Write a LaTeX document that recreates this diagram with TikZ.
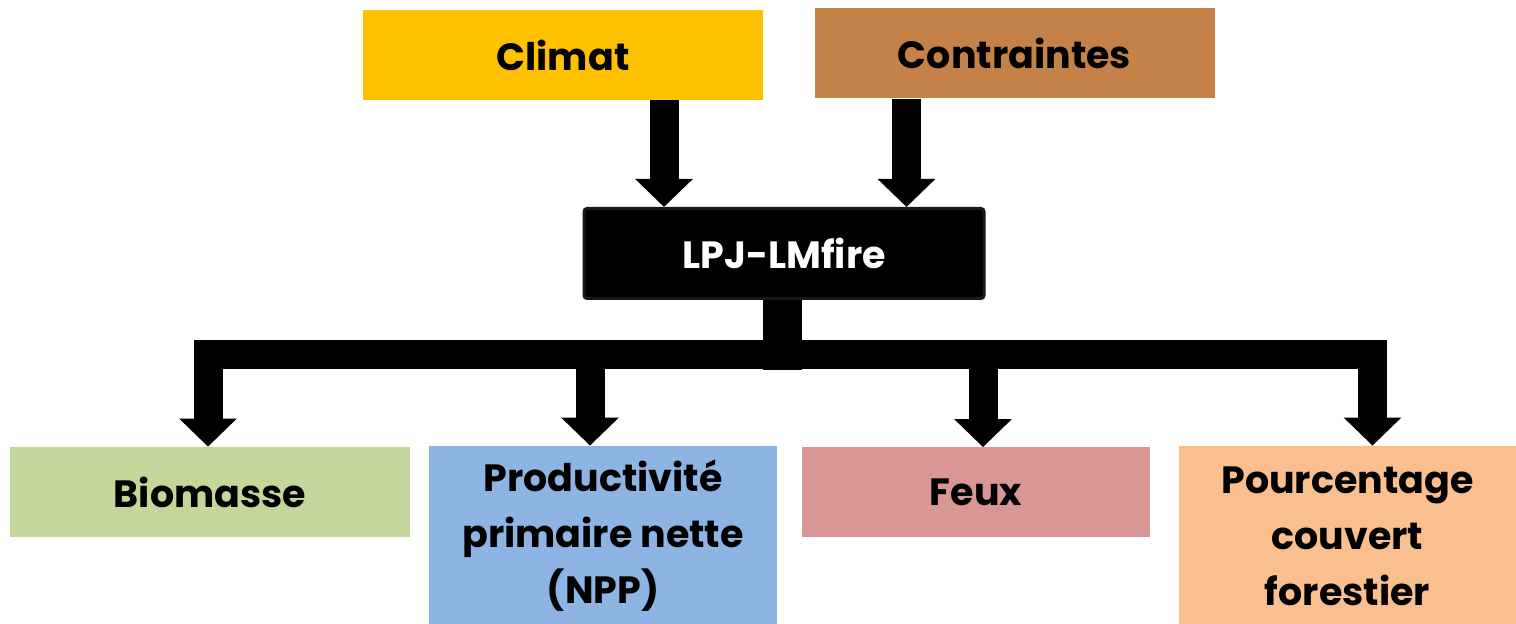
\documentclass[tikz,border=0pt]{standalone}
\usepackage{fontspec}
\setmainfont{Poppins}
\usepackage{xcolor}
\definecolor{climatcol}{RGB}{255,192,0}
\definecolor{contrcol}{RGB}{196,130,72}
\definecolor{biocol}{RGB}{196,215,155}
\definecolor{nppcol}{RGB}{141,180,226}
\definecolor{feuxcol}{RGB}{218,150,148}
\definecolor{forcol}{RGB}{250,191,143}
\usetikzlibrary{arrows.meta,positioning}

\tikzset{
  boite/.style={minimum width=200pt, minimum height=45pt, inner sep=0pt, align=center,
    font=\fontsize{19}{28}\selectfont\bfseries},
  fleche/.style={line width=14.5pt, -{Triangle[length=14pt, width=28pt]}},
}

\begin{document}
\begin{tikzpicture}[x=0.5pt, y=-0.5pt]
  \useasboundingbox (0,0) rectangle (1516,624);

  %% Entrees
  \node[boite, fill=climatcol] (climat) at (563,55) {Climat};
  \node[boite, fill=contrcol]  (contr)  at (1014.5,53.5) {Contraintes};

  %% Modele
  \node[boite, fill=black, draw=black!90, line width=1.5pt, rounded corners=1.5pt,
        minimum width=200pt, minimum height=45pt, text=white] (lpj) at (784,253.5) {LPJ-LMfire};

  %% Sorties
  \node[boite, fill=biocol]  (bio)  at (210,492) {Biomasse};
  \node[boite, fill=nppcol, minimum width=174pt, minimum height=90pt] (npp) at (603,536) {Productivit\'e\\primaire nette\\(NPP)};
  \node[boite, fill=feuxcol, minimum width=174pt] (feux) at (976,492.5) {Feux};
  \node[boite, fill=forcol, minimum width=169pt, minimum height=90pt] (foret) at (1347.5,536) {Pourcentage\\couvert\\forestier};

  %% Fleches d'entree
  \draw[fleche] ([xshift=50.5pt]climat.south) -- ([xshift=50.5pt]climat.south |- lpj.north);
  \draw[fleche] ([xshift=-54pt]contr.south) -- ([xshift=-54pt]contr.south |- lpj.north);

  %% Tronc et branches
  \draw[line width=19.5pt] ([xshift=-0.75pt]lpj.south) -- ++(0,70);
  \draw[fleche] ([xshift=-0.75pt]lpj.south) -- ++(0,55) -| ([xshift=-1pt]bio.north);
  \draw[fleche] ([xshift=-0.75pt]lpj.south) -- ++(0,55) -| ([xshift=-6.5pt]npp.north);
  \draw[fleche] ([xshift=-0.75pt]lpj.south) -- ++(0,55) -| ([xshift=3.5pt]feux.north);
  \draw[fleche] ([xshift=-0.75pt]lpj.south) -- ++(0,55) -| ([xshift=12.5pt]foret.north);
\end{tikzpicture}
\end{document}
